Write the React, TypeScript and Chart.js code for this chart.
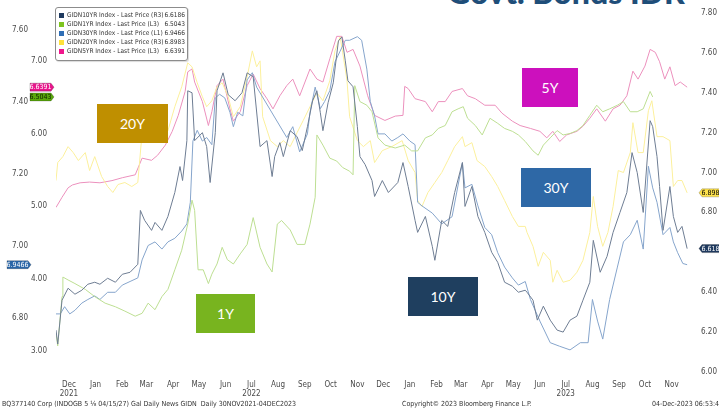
import React, { useEffect, useRef, useState } from "react";
import { Chart, registerables } from "chart.js";

Chart.register(...registerables);

// ---- DATA: [days since 30-Nov-2021, yield %] ----
const gidn10yr: [number, number][] = [
  [0, 6.21], [2, 6.14], [7, 6.36], [14, 6.42], [22, 6.39], [30, 6.41], [37, 6.44], [45, 6.45], [51, 6.44], [60, 6.47],
  [69, 6.45], [77, 6.49], [86, 6.5], [95, 6.54], [98, 6.81], [103, 6.76], [111, 6.71], [115, 6.75], [123, 6.71], [130, 6.78],
  [138, 6.9], [144, 7.03], [147, 6.96], [152, 7.16], [153, 7.41], [158, 7.4], [161, 7.16], [170, 7.2], [175, 7.13], [179, 6.95],
  [185, 7.2], [187, 7.41], [194, 7.5], [200, 7.39], [208, 7.36], [216, 7.4], [222, 7.5], [229, 7.48], [237, 7.13], [245, 7.16],
  [251, 6.98], [254, 7.08], [260, 7.15], [264, 7.08], [272, 7.21], [280, 7.18], [286, 7.11], [292, 7.23], [298, 7.36], [303, 7.41],
  [307, 7.3], [310, 7.21], [316, 7.35], [322, 7.45], [328, 7.66], [332, 7.68], [336, 7.56], [339, 7.46], [345, 7.43], [350, 7.23],
  [353, 7.08], [359, 7.04], [367, 6.96], [370, 6.88], [379, 6.96], [386, 6.9], [397, 6.95], [403, 7.05], [409, 6.93], [417, 6.76],
  [420, 6.7], [429, 6.78], [437, 6.63], [440, 6.56], [448, 6.76], [455, 6.73], [463, 6.9], [472, 7.05], [475, 6.83], [483, 6.93],
  [490, 6.78], [498, 6.7], [506, 6.6], [513, 6.55], [521, 6.45], [530, 6.43], [537, 6.4], [545, 6.41], [547, 6.4], [554, 6.36],
  [559, 6.26], [566, 6.33], [574, 6.26], [582, 6.21], [589, 6.2], [597, 6.26], [605, 6.28], [612, 6.36], [620, 6.45], [624, 6.66],
  [632, 6.5], [640, 6.58], [647, 6.7], [655, 6.8], [663, 6.9], [669, 7.1], [675, 7.0], [682, 6.8], [690, 7.26], [693, 7.23],
  [698, 7.08], [701, 6.93], [705, 6.71], [713, 6.93], [717, 6.78], [722, 6.7], [727, 6.73], [733, 6.6186],
];

const gidn1yr: [number, number][] = [
  [0, 3.25], [2, 3.07], [7, 3.75], [8, 4.02], [14, 3.98], [22, 3.93], [34, 3.85], [45, 3.75], [57, 3.66], [69, 3.61],
  [80, 3.55], [92, 3.48], [100, 3.52], [107, 3.66], [115, 3.57], [123, 3.75], [130, 3.85], [138, 4.12], [146, 4.39], [153, 4.75],
  [158, 5.08], [161, 4.94], [165, 4.12], [171, 4.12], [177, 3.93], [181, 4.06], [187, 4.2], [193, 4.43], [199, 4.26], [206, 4.2],
  [214, 4.34], [222, 4.47], [229, 4.84], [237, 4.43], [245, 4.2], [251, 4.09], [257, 4.75], [262, 4.8], [272, 4.67], [280, 4.47],
  [289, 4.47], [295, 4.75], [301, 5.12], [303, 5.98], [310, 5.84], [318, 5.66], [326, 5.62], [333, 5.53], [341, 5.48], [345, 5.43],
  [347, 6.66], [353, 6.44], [361, 6.39], [367, 6.3], [374, 5.94], [382, 5.84], [394, 5.8], [405, 5.84], [413, 5.76], [420, 5.76],
  [429, 5.94], [437, 5.98], [444, 6.07], [452, 6.11], [460, 6.3], [467, 6.34], [473, 6.37], [478, 6.21], [487, 6.11], [495, 5.98],
  [504, 6.21], [513, 6.14], [521, 6.07], [530, 6.03], [537, 5.98], [545, 5.89], [554, 5.76], [560, 5.7], [566, 5.84], [574, 5.94],
  [582, 6.04], [589, 5.98], [597, 6.0], [605, 6.04], [612, 6.11], [620, 6.25], [628, 6.39], [635, 6.3], [643, 6.34], [652, 6.39],
  [659, 6.44], [667, 6.3], [675, 6.3], [682, 6.34], [690, 6.58], [693, 6.5043],
];

const gidn30yr: [number, number][] = [
  [0, 6.81], [5, 6.81], [10, 6.83], [16, 6.81], [22, 6.82], [30, 6.84], [37, 6.85], [45, 6.86], [51, 6.85], [60, 6.87],
  [69, 6.87], [77, 6.89], [86, 6.9], [95, 6.91], [100, 6.96], [107, 7.0], [115, 7.01], [123, 6.99], [130, 7.01], [138, 7.02],
  [146, 7.04], [152, 7.06], [156, 7.12], [159, 7.29], [164, 7.32], [170, 7.29], [175, 7.3], [181, 7.28], [185, 7.41], [190, 7.42],
  [196, 7.41], [202, 7.37], [206, 7.33], [211, 7.37], [217, 7.36], [222, 7.46], [228, 7.48], [233, 7.44], [268, 7.3], [275, 7.33],
  [283, 7.26], [292, 7.31], [295, 7.37], [301, 7.44], [307, 7.38], [312, 7.4], [318, 7.43], [324, 7.51], [330, 7.54], [336, 7.57],
  [341, 7.57], [350, 7.58], [355, 7.57], [361, 7.49], [365, 7.4], [370, 7.36], [374, 7.31], [382, 7.31], [390, 7.29], [397, 7.3],
  [403, 7.31], [411, 7.29], [417, 7.28], [420, 7.12], [425, 7.11], [437, 7.09], [448, 7.06], [460, 7.08], [472, 7.23], [475, 7.16],
  [483, 7.17], [490, 7.11], [498, 7.05], [506, 7.03], [513, 6.98], [521, 6.94], [530, 6.91], [537, 6.89], [545, 6.9], [551, 6.85],
  [562, 6.79], [574, 6.73], [585, 6.72], [597, 6.71], [609, 6.73], [618, 6.73], [623, 6.85], [629, 6.79], [635, 6.74], [643, 6.85],
  [652, 6.94], [659, 7.01], [667, 7.03], [675, 7.07], [682, 6.99], [688, 7.22], [693, 7.16], [698, 7.12], [705, 7.03], [713, 7.05],
  [717, 7.01], [722, 6.98], [728, 6.95], [733, 6.9466],
];

const gidn20yr: [number, number][] = [
  [0, 6.96], [2, 7.05], [8, 7.08], [14, 7.13], [20, 7.1], [26, 7.06], [34, 7.1], [39, 7.01], [45, 7.08], [53, 6.98],
  [60, 6.93], [66, 6.9], [72, 6.94], [80, 6.95], [88, 6.93], [95, 6.95], [100, 7.2], [107, 7.15], [115, 7.16], [123, 7.26],
  [130, 7.21], [138, 7.33], [146, 7.43], [153, 7.55], [158, 7.53], [164, 7.45], [170, 7.38], [175, 7.33], [181, 7.36], [187, 7.43],
  [193, 7.45], [200, 7.38], [206, 7.28], [214, 7.33], [222, 7.48], [228, 7.61], [233, 7.53], [237, 7.56], [240, 7.28], [249, 7.16],
  [257, 7.13], [264, 7.16], [272, 7.13], [280, 7.2], [287, 7.26], [295, 7.33], [303, 7.4], [310, 7.36], [318, 7.46], [324, 7.61],
  [330, 7.68], [333, 7.6], [338, 7.46], [341, 7.28], [350, 7.16], [357, 7.13], [365, 7.16], [370, 7.05], [379, 7.11], [390, 7.13],
  [402, 7.16], [409, 7.06], [417, 7.0], [420, 6.86], [425, 6.83], [432, 6.9], [440, 6.95], [448, 7.0], [455, 7.06], [463, 7.13],
  [472, 7.18], [475, 7.13], [483, 7.15], [489, 7.06], [498, 7.03], [506, 6.98], [513, 6.93], [521, 6.86], [530, 6.78], [537, 6.73],
  [545, 6.73], [547, 6.7], [554, 6.63], [560, 6.53], [566, 6.6], [574, 6.56], [577, 6.45], [582, 6.51], [589, 6.45], [597, 6.46],
  [605, 6.5], [612, 6.56], [620, 6.7], [624, 6.88], [629, 6.73], [635, 6.63], [641, 6.7], [647, 6.83], [653, 7.01], [659, 7.0],
  [667, 7.1], [670, 7.25], [676, 7.1], [682, 7.1], [688, 7.31], [692, 7.36], [698, 7.18], [705, 7.18], [713, 7.16], [717, 6.93],
  [722, 6.96], [727, 6.96], [733, 6.8983],
];

const gidn5yr: [number, number][] = [
  [0, 4.98], [7, 5.12], [14, 5.25], [19, 5.29], [28, 5.32], [39, 5.33], [51, 5.32], [65, 5.35], [77, 5.39], [92, 5.43],
  [100, 5.66], [111, 5.63], [118, 5.7], [127, 5.84], [135, 6.03], [142, 6.25], [150, 6.58], [153, 6.85], [158, 6.89], [161, 6.71],
  [170, 6.44], [177, 6.11], [181, 6.3], [187, 6.66], [194, 6.75], [202, 6.34], [206, 6.17], [214, 6.3], [222, 6.66], [229, 6.82],
  [237, 6.62], [245, 6.48], [252, 6.34], [260, 6.52], [268, 6.66], [275, 6.75], [283, 6.52], [295, 6.89], [303, 6.75], [310, 6.71],
  [318, 7.03], [326, 7.34], [332, 7.34], [338, 7.12], [345, 7.16], [353, 6.93], [362, 6.52], [370, 6.25], [382, 6.18], [394, 6.24],
  [403, 6.25], [405, 6.65], [409, 6.62], [417, 6.48], [429, 6.44], [437, 6.3], [444, 6.44], [452, 6.44], [460, 6.58], [472, 6.62],
  [478, 6.52], [487, 6.48], [498, 6.39], [510, 6.39], [518, 6.28], [530, 6.17], [539, 6.11], [551, 6.07], [562, 6.03], [570, 5.94],
  [577, 6.03], [585, 5.89], [593, 5.98], [605, 6.03], [612, 6.1], [620, 6.21], [628, 6.34], [638, 6.17], [647, 6.34], [655, 6.39],
  [663, 6.52], [670, 6.86], [676, 6.75], [684, 6.93], [690, 7.16], [696, 7.12], [701, 6.99], [707, 6.75], [713, 6.92], [719, 6.66],
  [725, 6.71], [733, 6.6391],
];

const seriesNames = [
  "GIDN10YR Index - Last Price (R3)",
  "GIDN1YR Index - Last Price (L3)",
  "GIDN30YR Index - Last Price (L1)",
  "GIDN20YR Index - Last Price (R3)",
  "GIDN5YR Index - Last Price (L3)",
];

const monthLabels = ["Dec", "Jan", "Feb", "Mar", "Apr", "May", "Jun", "Jul", "Aug", "Sep", "Oct", "Nov",
  "Dec", "Jan", "Feb", "Mar", "Apr", "May", "Jun", "Jul", "Aug", "Sep", "Oct", "Nov"];
const yearLabels: Record<number, string> = { 0: "2021", 7: "2022", 19: "2023" };
const leftOuterTicks = [6.8, 7.0, 7.2, 7.4, 7.6];
const leftInnerTicks = [3, 4, 5, 6, 7];
const rightTicks = [6.0, 6.2, 6.4, 6.6, 6.8, 7.0, 7.2, 7.4, 7.6, 7.8];
const boxLabels = ["20Y", "5Y", "30Y", "1Y", "10Y"];

const START_UTC = Date.UTC(2021, 10, 30);
const END_DAY = 734;
const FONT = "'Liberation Sans Narrow', 'DejaVu Sans Condensed', 'Arial Narrow', sans-serif";
const TICK_COLOR = "#4a4a4a";

const series = [
  { name: seriesNames[0], data: gidn10yr, axis: "yR3", line: "#6e7d93", key: "#1f3a5f", tagBg: "#1f3a5f", tagFg: "#ffffff", tagShift: 0 },
  { name: seriesNames[1], data: gidn1yr, axis: "yL3", line: "#bddf92", key: "#7dc41f", tagBg: "#5aa80c", tagFg: "#0d1f05", tagShift: 0 },
  { name: seriesNames[2], data: gidn30yr, axis: "yL1", line: "#86a5cc", key: "#2f6eb5", tagBg: "#2a66a8", tagFg: "#ffffff", tagShift: 3 },
  { name: seriesNames[3], data: gidn20yr, axis: "yR3", line: "#fcf09c", key: "#ffe13a", tagBg: "#ffe34d", tagFg: "#000000", tagShift: 0 },
  { name: seriesNames[4], data: gidn5yr, axis: "yL3", line: "#ec90bd", key: "#f0168c", tagBg: "#e8168c", tagFg: "#ffffff", tagShift: 0 },
];

const boxStyles = [
  { left: 97, top: 104, width: 71, height: 39, bg: "#bf8f00" },
  { left: 522, top: 68, width: 56, height: 39, bg: "#cc10bd" },
  { left: 521, top: 168, width: 70, height: 39, bg: "#2e68a6" },
  { left: 196, top: 294, width: 59, height: 39, bg: "#78b41f" },
  { left: 408, top: 277, width: 70, height: 39, bg: "#1f3f5f" },
];

function drawTag(ctx: CanvasRenderingContext2D, tipX: number, y: number, dir: number, bg: string, fg: string, text: string) {
  const h = 8, w = 21, a = 3;
  ctx.save();
  ctx.beginPath();
  let cx;
  if (dir === 1) {
    const x1 = tipX - a, x0 = x1 - w;
    ctx.moveTo(x0, y - h / 2); ctx.lineTo(x1, y - h / 2); ctx.lineTo(tipX, y);
    ctx.lineTo(x1, y + h / 2); ctx.lineTo(x0, y + h / 2); ctx.closePath();
    cx = (x0 + x1) / 2;
  } else {
    const x0 = tipX + a, x1 = x0 + w;
    ctx.moveTo(tipX, y); ctx.lineTo(x0, y - h / 2); ctx.lineTo(x1, y - h / 2);
    ctx.lineTo(x1, y + h / 2); ctx.lineTo(x0, y + h / 2); ctx.closePath();
    cx = (x0 + x1) / 2;
  }
  ctx.fillStyle = bg;
  ctx.fill();
  ctx.strokeStyle = "rgba(0,0,0,0.35)";
  ctx.lineWidth = 0.6;
  ctx.stroke();
  ctx.fillStyle = fg;
  ctx.font = `7px ${FONT}`;
  ctx.textAlign = "center";
  ctx.textBaseline = "middle";
  ctx.fillText(text, cx, y + 0.5);
  ctx.restore();
}

const tagPlugin = {
  id: "lastValueTags",
  afterDraw(chart: any) {
    const ctx = chart.ctx;
    series.forEach((s) => {
      const scale = chart.scales[s.axis];
      const last = s.data[s.data.length - 1][1];
      const y = scale.getPixelForValue(last);
      if (scale.position === "left") {
        drawTag(ctx, scale.right - 2 + s.tagShift, y, 1, s.tagBg, s.tagFg, last.toFixed(4));
      } else {
        drawTag(ctx, scale.left + 11, y, -1, s.tagBg, s.tagFg, last.toFixed(4));
      }
    });
  },
};

const fixWidth = (w: number) => (s: any) => {
  s.width = w;
  s.paddingTop = 0; s.paddingBottom = 0; s.paddingLeft = 0; s.paddingRight = 0;
};

function yAxis(position: string, weight: number, min: number, max: number, ticks: number[], width: number, padding: number, showLabels = true) {
  return {
    type: "linear", position, weight, min, max,
    grid: { display: false, drawTicks: false },
    border: { display: false },
    afterBuildTicks: (s: any) => { s.ticks = ticks.map((v) => ({ value: v })); },
    ticks: { display: showLabels, autoSkip: false, padding, color: TICK_COLOR, font: { family: FONT, size: 8 }, callback: (v: any) => Number(v).toFixed(2) },
    afterFit: fixWidth(width),
  };
}

export default function App() {
  const canvasRef = useRef<HTMLCanvasElement | null>(null);
  const [rightLabels, setRightLabels] = useState<{ text: string; x: number; y: number }[]>([]);

  useEffect(() => {
    if (!canvasRef.current) return;
    const monthTickDays = monthLabels.map((_, i) => (Date.UTC(2021, 11 + i, 15) - START_UTC) / 86400000);
    const chart = new Chart(canvasRef.current, {
      type: "line",
      data: {
        datasets: series.map((s) => ({
          label: s.name,
          data: s.data.map(([d, v]) => ({ x: d, y: v })),
          yAxisID: s.axis,
          borderColor: s.line,
          backgroundColor: s.line,
          borderWidth: 1,
          pointRadius: 0,
          fill: false,
          tension: 0,
        })),
      } as any,
      options: {
        responsive: false,
        animation: false,
        devicePixelRatio: 1,
        layout: { padding: { top: 5, left: 0, right: 0, bottom: 0 } },
        plugins: { legend: { display: false }, tooltip: { enabled: false } },
        scales: {
          x: {
            type: "linear", min: 0, max: END_DAY,
            grid: { display: false, drawTicks: false },
            border: { display: false },
            afterBuildTicks: (s: any) => { s.ticks = monthTickDays.map((v) => ({ value: v })); },
            ticks: {
              autoSkip: false, maxRotation: 0, padding: 8, color: TICK_COLOR,
              font: { family: FONT, size: 8 },
              callback: (_v: any, i: number) => (yearLabels[i] ? [monthLabels[i], yearLabels[i]] : monthLabels[i]),
            },
            afterFit: (s: any) => { s.height = 38; s.paddingLeft = 0; s.paddingRight = 0; s.paddingTop = 0; s.paddingBottom = 0; },
          },
          yL1: yAxis("left", 2, 6.6486, 7.668, leftOuterTicks, 30, 2),
          yL3: yAxis("left", 1, 2.7103, 7.7724, leftInnerTicks, 26, 9),
          yR3: yAxis("right", 1, 6.0, 7.84, rightTicks, 31, 13, false),
        } as any,
      },
      plugins: [tagPlugin],
    } as any);
    const r3: any = chart.scales.yR3;
    setRightLabels(
      rightTicks
        .filter((v) => Math.abs(v - 6.6) > 1e-9)
        .map((v) => ({ text: v.toFixed(2), x: r3.left + 13, y: r3.getPixelForValue(v) }))
    );
    return () => chart.destroy();
  }, []);

  return (
    <div style={{ position: "fixed", left: 0, top: 0, width: 719, height: 410, background: "#fff", overflow: "hidden" }}>
      <div style={{ position: "absolute", left: 440, top: 0, width: 254, height: 9, overflow: "hidden", zIndex: 0 }}>
        <div style={{ position: "absolute", left: 7, top: -24, fontFamily: "Lato, 'Open Sans', sans-serif", fontWeight: 900, fontSize: 32, lineHeight: "32px", color: "#1f4e79", whiteSpace: "nowrap" }}>
          Govt. Bonds IDR
        </div>
      </div>
      <canvas ref={canvasRef} width={719} height={410} style={{ position: "absolute", left: 0, top: 0, width: 719, height: 410, zIndex: 1 }} />
      {rightLabels.map((l) => (
        <div key={l.text} style={{ position: "absolute", zIndex: 3, left: l.x, top: l.y - 5, height: 10, lineHeight: "10px", fontFamily: FONT, fontSize: 8, color: TICK_COLOR, whiteSpace: "nowrap" }}>
          {l.text}
        </div>
      ))}
      <div style={{ position: "absolute", left: 55, top: 7, width: 131, height: 52, zIndex: 2, border: "1px solid #8c8c8c", borderRadius: 3, background: "#fff", boxShadow: "1px 1px 1px rgba(0,0,0,0.15)", fontFamily: FONT, fontSize: 6.5, color: "#333" }}>
        {series.map((s, i) => (
          <div key={s.name} style={{ position: "absolute", left: 3, right: 2, top: 3 + i * 9, height: 9, lineHeight: "9px", whiteSpace: "nowrap" }}>
            <span style={{ position: "absolute", left: 0, top: 2, width: 5, height: 5, background: s.key }} />
            <span style={{ position: "absolute", left: 8 }}>{s.name}</span>
            <span style={{ position: "absolute", right: 0 }}>{s.data[s.data.length - 1][1].toFixed(4)}</span>
          </div>
        ))}
      </div>
      {boxLabels.map((t, i) => (
        <div key={t} style={{ position: "absolute", zIndex: 2, left: boxStyles[i].left, top: boxStyles[i].top, width: boxStyles[i].width, height: boxStyles[i].height, background: boxStyles[i].bg, color: "#fff", fontFamily: "Lato, 'Open Sans', sans-serif", fontSize: 14, display: "flex", alignItems: "center", justifyContent: "center" }}>
          {t}
        </div>
      ))}
      <div style={{ position: "absolute", zIndex: 2, left: 0, top: 399, width: 719, height: 11, fontFamily: FONT, fontSize: 7, color: "#333", whiteSpace: "nowrap", lineHeight: "10px" }}>
        <span style={{ position: "absolute", left: 2 }}>BQ377140 Corp (INDOGB 5 ⅛ 04/15/27) Gal Daily News GIDN&nbsp;&nbsp;Daily 30NOV2021-04DEC2023</span>
        <span style={{ position: "absolute", left: 402 }}>Copyright© 2023 Bloomberg Finance L.P.</span>
        <span style={{ position: "absolute", left: 652 }}>04-Dec-2023 06:53:48</span>
      </div>
    </div>
  );
}
